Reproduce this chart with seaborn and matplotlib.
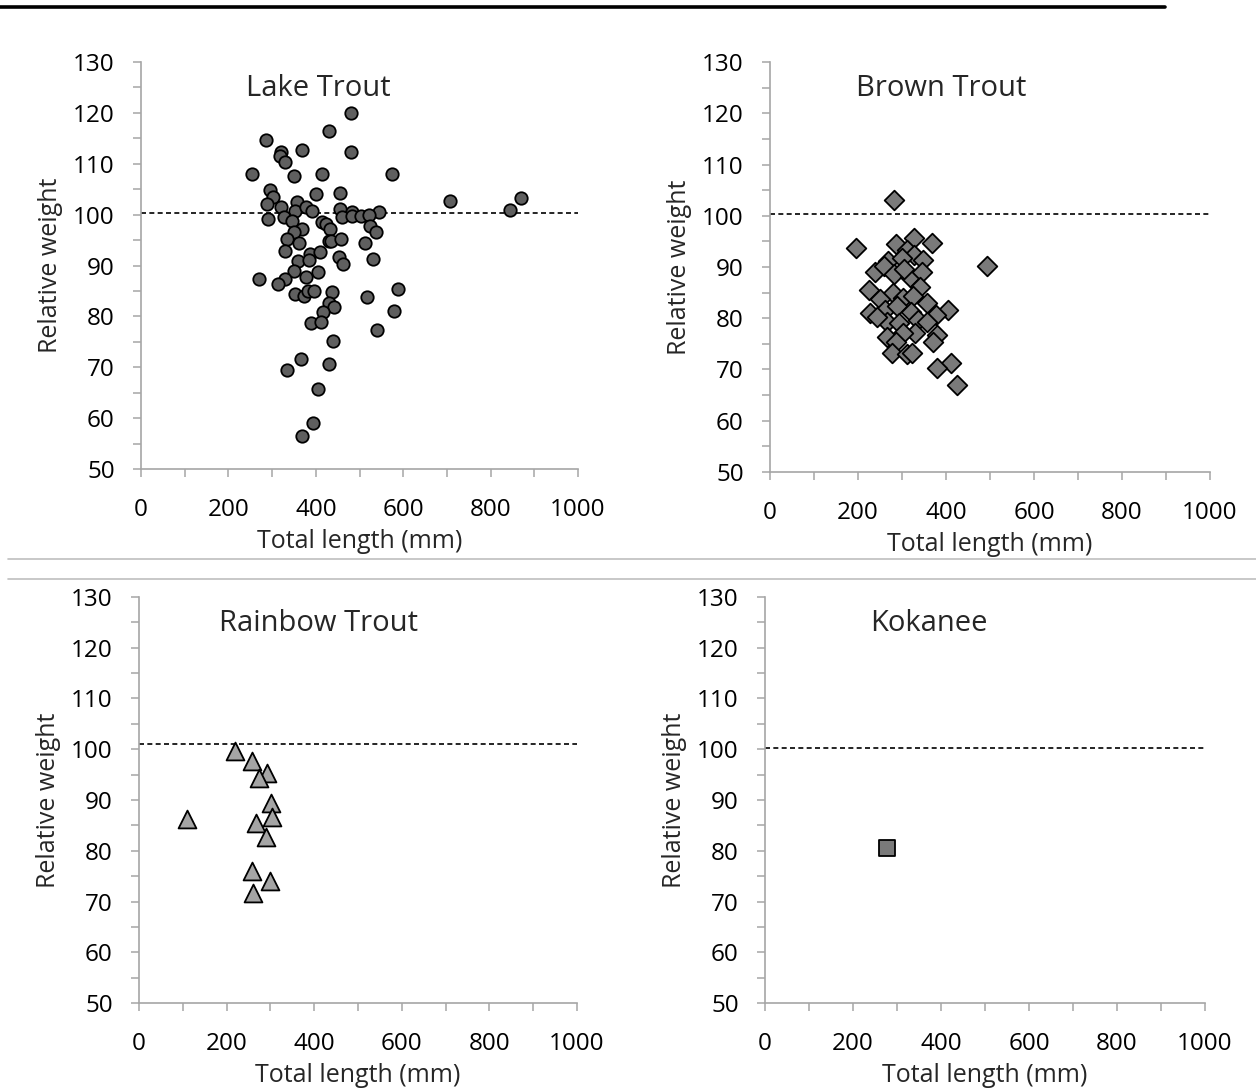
import numpy as np
import pandas as pd
import matplotlib
matplotlib.use("Agg")
import matplotlib.pyplot as plt
from matplotlib.lines import Line2D
from matplotlib.ticker import MultipleLocator
import seaborn as sns

# Lake Trout: total length (mm) and relative weight
lake_len = [480, 429, 285, 320, 317, 329, 368, 480, 254, 349, 413, 575, 294, 303, 401, 456,
            706, 869, 844, 288, 320, 356, 353, 377, 392, 455, 482, 545, 291, 327, 345, 461,
            482, 504, 521, 413, 423, 433, 368, 349, 524, 538, 333, 362, 430, 435, 458, 513,
            329, 387, 410, 359, 384, 452, 462, 530, 350, 405, 378, 269, 330, 313, 353, 374,
            383, 395, 436, 588, 516, 430, 442, 417, 578, 389, 412, 539, 439, 366, 429, 334,
            405, 393, 369]
lake_wr = [119.9, 116.4, 114.6, 112.3, 111.6, 110.3, 112.7, 112.3, 107.9, 107.6, 107.9, 107.9,
           104.8, 103.5, 104.0, 104.2, 102.7, 103.2, 101.0, 102.1, 101.5, 102.5, 100.8, 101.5,
           100.7, 101.1, 100.5, 100.5, 99.2, 99.6, 98.7, 99.6, 99.8, 99.8, 100.0, 98.6, 98.1,
           97.1, 97.1, 96.5, 97.8, 96.6, 95.2, 94.5, 94.9, 94.9, 95.2, 94.5, 92.8, 92.2, 92.6,
           90.8, 91.1, 91.7, 90.3, 91.2, 89.0, 88.8, 87.8, 87.3, 87.4, 86.3, 84.5, 84.0, 85.0,
           85.0, 84.7, 85.4, 83.8, 82.7, 81.8, 80.8, 81.1, 78.8, 78.9, 77.4, 75.1, 71.7, 70.6,
           69.4, 65.7, 59.1, 56.5]

# Brown Trout
brown_len = [282, 195, 494, 286, 327, 368, 311, 327, 348, 269, 299, 239, 258, 282, 318, 346,
             305, 341, 224, 279, 250, 302, 326, 356, 405, 227, 261, 288, 320, 377, 265, 294,
             337, 356, 242, 330, 265, 303, 379, 370, 286, 277, 311, 322, 411, 379, 426]
brown_wr = [103.1, 93.8, 90.1, 94.5, 95.6, 94.7, 93.3, 92.3, 91.4, 91.2, 91.7, 89.1, 90.1,
            88.6, 88.1, 89.0, 89.7, 86.0, 85.5, 84.9, 83.7, 83.9, 84.4, 82.9, 81.6, 81.1, 81.6,
            82.3, 81.3, 80.6, 79.3, 79.0, 79.7, 79.3, 80.3, 77.1, 76.4, 77.1, 76.7, 75.4, 75.4,
            73.3, 73.0, 73.3, 71.3, 70.2, 67.0]

# Rainbow Trout
rainbow_len = [218, 257, 292, 275, 301, 303, 110, 266, 290, 258, 298, 261]
rainbow_wr = [99.7, 97.7, 95.3, 94.3, 89.5, 86.7, 86.2, 85.4, 82.8, 76.0, 74.0, 71.7]

# Kokanee
kok_len = [277]
kok_wr = [80.5]

# standard weight reference line per panel
ref_lines = [100.3, 100.3, 101.0, 100.3]
species = ["Lake Trout", "Brown Trout", "Rainbow Trout", "Kokanee"]

sns.set_theme(style="white")
plt.rcParams['font.family'] = ['Open Sans', 'DejaVu Sans']

fig = plt.figure(figsize=(12.56, 10.9), dpi=100)

# axes boxes in figure fractions
boxes = [
    [0.1123, 0.5697, 0.3479, 0.3734],
    [0.6131, 0.5670, 0.3503, 0.3761],
    [0.1107, 0.0798, 0.3487, 0.3725],
    [0.6091, 0.0798, 0.3503, 0.3725],
]
title_x = [0.405, 0.39, 0.41, 0.373]

panels = [
    (lake_len, lake_wr, "o", "#5f5f5f", 80),
    (brown_len, brown_wr, "D", "#7a7a7a", 100),
    (rainbow_len, rainbow_wr, "^", "#a5a5a5", 165),
    (kok_len, kok_wr, "s", "#7a7a7a", 130),
]

for i, (lens, wrs, mk, fc, sz) in enumerate(panels):
    ax = fig.add_axes(boxes[i])
    df = pd.DataFrame({"len": lens, "wr": wrs})
    sns.scatterplot(data=df, x="len", y="wr", marker=mk, s=sz, color=fc,
                    edgecolor="black", linewidth=1.3, ax=ax, zorder=3)
    ax.axhline(ref_lines[i], color="black", ls=(0, (3, 2)), lw=1.2, zorder=2)
    ax.set_xlim(0, 1000)
    ax.set_ylim(50, 130)
    ax.xaxis.set_major_locator(MultipleLocator(200))
    ax.xaxis.set_minor_locator(MultipleLocator(100))
    ax.yaxis.set_major_locator(MultipleLocator(10))
    ax.yaxis.set_minor_locator(MultipleLocator(5))
    ax.tick_params(which="both", direction="out", length=6, width=1.1, color="#a6a6a6",
                   bottom=True, left=True)
    ax.tick_params(axis="x", which="major", labelsize=17.5, pad=15, labelcolor="black")
    ax.tick_params(axis="y", which="major", labelsize=17.5, pad=13, labelcolor="black")
    for side in ["top", "right"]:
        ax.spines[side].set_visible(False)
    for side in ["left", "bottom"]:
        ax.spines[side].set_color("#a6a6a6")
        ax.spines[side].set_linewidth(1.2)
    ax.set_xlabel("Total length (mm)", fontsize=18, labelpad=5)
    ax.set_ylabel("Relative weight", fontsize=18, labelpad=7)
    ax.text(title_x[i], 0.935, species[i], transform=ax.transAxes, ha="center",
            va="center", fontsize=21)
    ax.set_facecolor("white")

# decorative rules of the page
fig.add_artist(Line2D([0, 1165 / 1256], [1 - 6.5 / 1090] * 2, color="black", lw=2.6))
fig.add_artist(Line2D([8 / 1256, 1], [1 - 559 / 1090] * 2, color="#bfbfbf", lw=1.2))
fig.add_artist(Line2D([8 / 1256, 1], [1 - 579 / 1090] * 2, color="#bfbfbf", lw=1.2))

plt.savefig("out.png", dpi=100, facecolor="white")
